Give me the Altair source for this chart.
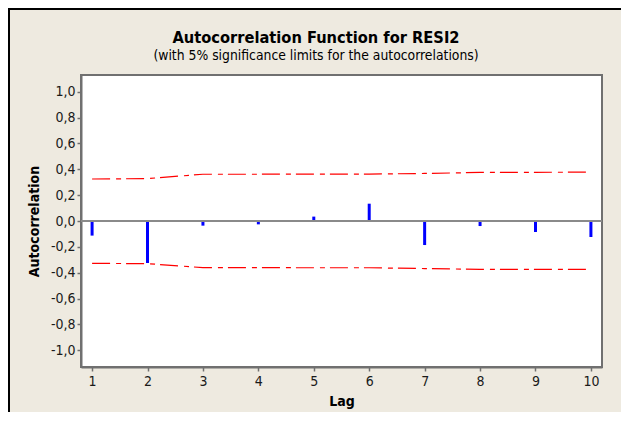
import altair as alt
import pandas as pd

lags = [1, 2, 3, 4, 5, 6, 7, 8, 9, 10]
acf = [-0.113, -0.325, -0.036, -0.026, 0.034, 0.134, -0.186, -0.039, -0.085, -0.124]
upper = [0.325, 0.328, 0.362, 0.362, 0.363, 0.363, 0.368, 0.376, 0.377, 0.378]
lower = [-0.328, -0.330, -0.361, -0.361, -0.362, -0.362, -0.368, -0.374, -0.374, -0.375]
y_ticks = [-1.0, -0.8, -0.6, -0.4, -0.2, 0.0, 0.2, 0.4, 0.6, 0.8, 1.0]
title_text = "Autocorrelation Function for RESI2"
subtitle_text = "(with 5% significance limits for the autocorrelations)"

df = pd.DataFrame({"Lag": lags, "ACF": acf, "zero": [0.0] * len(lags),
                   "upper": upper, "lower": lower})

FONT = "DejaVu Sans Condensed"
W, H = 521, 292
PL, PT = 73, 67
TOTAL_W, TOTAL_H = 613, 404

xs = alt.Scale(domain=[0.8, 10.2], nice=False, zero=False)
ys = alt.Scale(domain=[-1.13, 1.13], nice=False)

label_expr = "(datum.value < 0 ? '-' : '') + replace(format(abs(datum.value), '.1f'), '.', ',')"

x_axis = alt.Axis(values=lags, format="d", title="Lag", grid=False,
                  labelPadding=3, titlePadding=6)
y_axis = alt.Axis(values=y_ticks, labelExpr=label_expr, title="Autocorrelation",
                  grid=False, labelPadding=2, titlePadding=9, labelOverlap=False)

base = alt.Chart(df)

bars = base.mark_rule(color="#0000FF", strokeWidth=3).encode(
    x=alt.X("Lag:Q", scale=xs, axis=x_axis),
    y=alt.Y("zero:Q", scale=ys, axis=y_axis),
    y2="ACF:Q",
)

zero_line = alt.Chart(pd.DataFrame({"z": [0.0]})).mark_rule(
    color="#8a8a8a", strokeWidth=2
).encode(y=alt.Y("z:Q", scale=ys, axis=y_axis))

dash = [18, 6, 5, 5]
up_line = base.mark_line(color="#FF0000", strokeWidth=1.2, strokeDash=dash).encode(
    x=alt.X("Lag:Q", scale=xs, axis=x_axis), y=alt.Y("upper:Q", scale=ys, axis=y_axis))
lo_line = base.mark_line(color="#FF0000", strokeWidth=1.2, strokeDash=dash).encode(
    x=alt.X("Lag:Q", scale=xs, axis=x_axis), y=alt.Y("lower:Q", scale=ys, axis=y_axis))

one = pd.DataFrame({"a": [0]})
border_top = alt.Chart(one).mark_rule(color="black", strokeWidth=2).encode(
    x=alt.value(-PL), x2=alt.value(TOTAL_W - PL), y=alt.value(-PT + 1))
border_left = alt.Chart(one).mark_rule(color="black", strokeWidth=2).encode(
    x=alt.value(-PL + 1), y=alt.value(-PT), y2=alt.value(TOTAL_H - PT))

title_mark = alt.Chart(pd.DataFrame({"t": [title_text]})).mark_text(
    font=FONT, fontSize=16.3, fontWeight="bold", color="black",
    align="center", baseline="middle"
).encode(text="t:N", x=alt.value(316 - 8 - PL), y=alt.value(38 - 8 - PT))
subtitle_mark = alt.Chart(pd.DataFrame({"t": [subtitle_text]})).mark_text(
    font=FONT, fontSize=13.8, color="black", align="center", baseline="middle"
).encode(text="t:N", x=alt.value(316 - 8 - PL), y=alt.value(56 - 8 - PT))

chart = alt.layer(bars, zero_line, up_line, lo_line, border_top, border_left,
                  title_mark, subtitle_mark).properties(
    width=W, height=H,
    autosize=alt.AutoSizeParams(type="none"),
    padding={"left": PL, "top": PT, "right": TOTAL_W - PL - W, "bottom": TOTAL_H - PT - H},
).configure(background="#EEEAE0").configure_view(
    fill="white", stroke="#707070", strokeWidth=2
).configure_axis(
    domainColor="#707070", domainWidth=2, tickColor="#707070", tickWidth=1.5,
    tickSize=4, labelFont=FONT, labelFontSize=14, labelColor="#1a1a1a",
    titleFont=FONT, titleFontSize=14, titleFontWeight="bold", titleColor="black",
)

chart.save("out.html", embed_options={"renderer": "svg", "actions": False})
